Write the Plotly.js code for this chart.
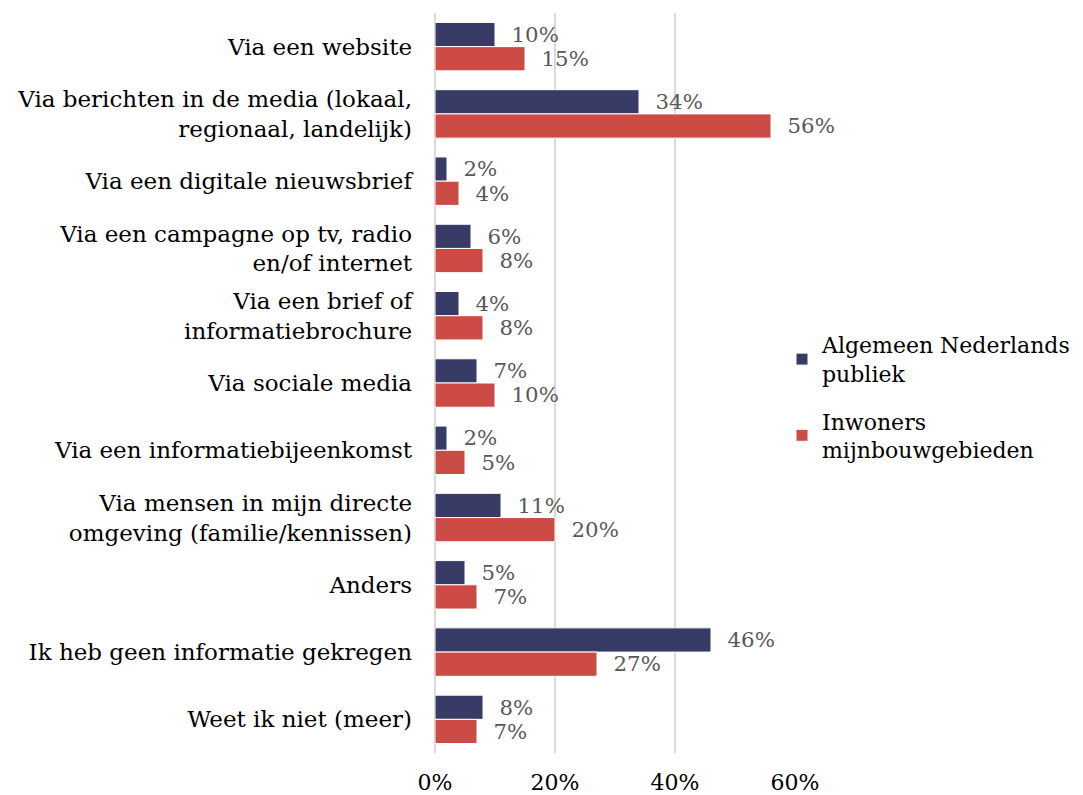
<!DOCTYPE html>
<html>
<head>
<meta charset="utf-8">
<script src="https://cdn.plot.ly/plotly-3.0.1.min.js"></script>
<style>html,body{margin:0;padding:0;background:#fff;}#chart{width:1083px;height:795px;}</style>
</head>
<body>
<div id="chart"></div>
<script>
const categories = [
  "Via een website",
  "Via berichten in de media (lokaal,<br>regionaal, landelijk)",
  "Via een digitale nieuwsbrief",
  "Via een campagne op tv, radio<br>en/of internet",
  "Via een brief of<br>informatiebrochure",
  "Via sociale media",
  "Via een informatiebijeenkomst",
  "Via mensen in mijn directe<br>omgeving (familie/kennissen)",
  "Anders",
  "Ik heb geen informatie gekregen",
  "Weet ik niet (meer)"
];
const seriesNames = ["Algemeen Nederlands<br>publiek", "Inwoners<br>mijnbouwgebieden"];
const algemeen = [0.10, 0.34, 0.02, 0.06, 0.04, 0.07, 0.02, 0.11, 0.05, 0.46, 0.08];
const inwoners = [0.15, 0.56, 0.04, 0.08, 0.08, 0.10, 0.05, 0.20, 0.07, 0.27, 0.07];
const xTicks = [0, 0.2, 0.4, 0.6];
const xTickText = ["0%", "20%", "40%", "60%"];

const FONT = "DejaVu Serif, Liberation Serif, serif";
const colors = ["#383b66", "#cc4b45"];

function mk(vals, i) {
  return {
    type: "bar", orientation: "h",
    y: categories, x: vals, name: seriesNames[i],
    legendgroup: "g" + i,
    marker: {color: colors[i], line: {color: "#ffffff", width: 1}},
    text: vals.map(v => "  " + Math.round(v * 100) + "%"),
    textposition: "outside",
    textfont: {family: FONT, size: 22, color: "#595959"},
    cliponaxis: false,
    hoverinfo: "none"
  };
}

const data = [mk(algemeen, 0), mk(inwoners, 1)];

const layout = {
  width: 1083, height: 795,
  margin: {l: 435, r: 288, t: 13, b: 42},
  paper_bgcolor: "#ffffff", plot_bgcolor: "#ffffff",
  font: {family: FONT, size: 22, color: "#000000"},
  barmode: "group",
  bargap: 0.28, bargroupgap: 0.0,
  showlegend: true,
  legend: {
    xref: "container", yref: "container",
    x: 0.735, xanchor: "left", y: 0.5, yanchor: "middle",
    font: {family: FONT, size: 22, color: "#000000"},
    traceorder: "grouped", itemwidth: 30, tracegroupgap: 16,
    indentation: -14
  },
  xaxis: {
    range: [0, 0.6], tickvals: xTicks, ticktext: xTickText,
    showgrid: true, gridcolor: "#d9d9d9", gridwidth: 2,
    zeroline: true, zerolinecolor: "#d9d9d9", zerolinewidth: 2,
    showline: false, ticks: "",
    tickfont: {family: FONT, size: 22, color: "#000000"},
    ticklabelstandoff: 14, fixedrange: true
  },
  yaxis: {
    type: "category", autorange: "reversed",
    showgrid: false, zeroline: false, showline: false, ticks: "",
    tickfont: {family: FONT, size: 23, color: "#000000"},
    ticklabelstandoff: 22, fixedrange: true
  }
};

Plotly.newPlot("chart", data, layout, {displayModeBar: false, staticPlot: true});
</script>
</body>
</html>
